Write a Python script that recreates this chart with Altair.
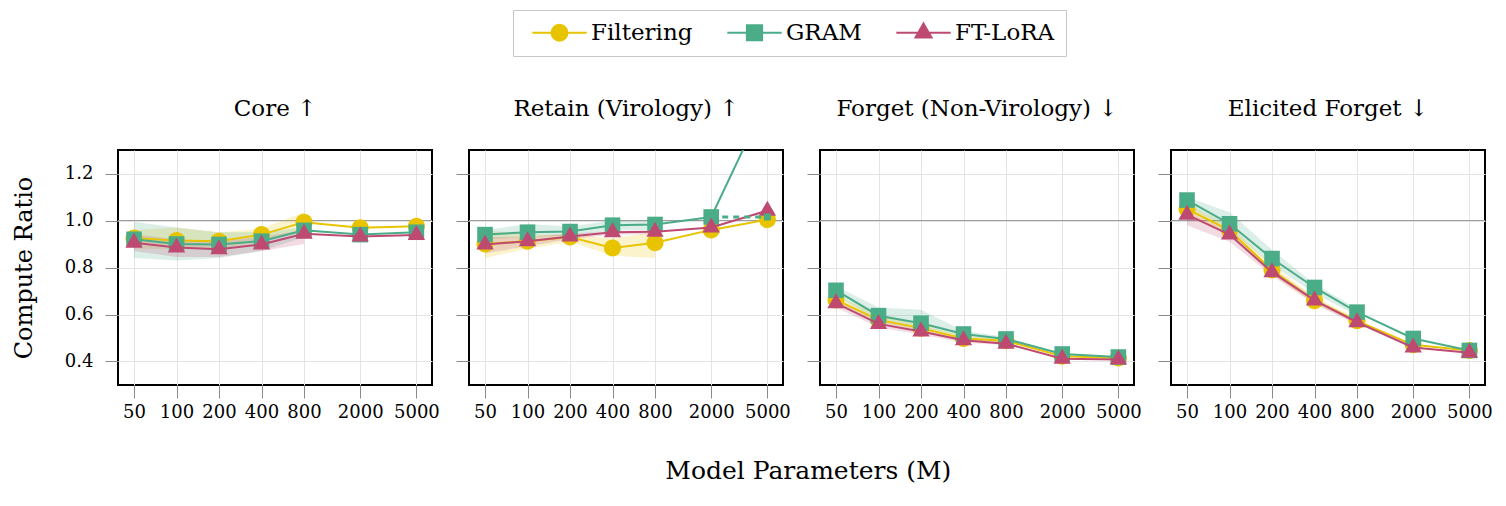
import altair as alt
import pandas as pd

# ---- data -------------------------------------------------------------
SIZES = [50, 100, 200, 400, 800, 2000, 5000]
BAND_SIZES = [50, 100, 200, 400, 800]
METHODS = ["Filtering", "GRAM", "FT-LoRA"]
COLORS = ["#E8C300", "#4BAC88", "#BE4A72"]
PANELS = ["Core ↑", "Retain (Virology) ↑", "Forget (Non-Virology) ↓", "Elicited Forget ↓"]
Y_TICKS = [0.4, 0.6, 0.8, 1.0, 1.2]

# Core
core_filtering = [0.925, 0.915, 0.912, 0.940, 0.993, 0.969, 0.976]
core_gram = [0.920, 0.900, 0.898, 0.912, 0.958, 0.940, 0.950]
core_ftlora = [0.905, 0.885, 0.878, 0.898, 0.944, 0.932, 0.938]
core_filtering_lo = [0.88, 0.88, 0.88, 0.91, 0.96]
core_filtering_hi = [0.96, 0.97, 0.95, 0.965, 1.035]
core_gram_lo = [0.84, 0.83, 0.84, 0.87, 0.93]
core_gram_hi = [0.995, 0.97, 0.95, 0.95, 0.97]
core_ftlora_lo = [0.87, 0.845, 0.845, 0.87, 0.90]
core_ftlora_hi = [0.94, 0.92, 0.91, 0.93, 0.96]

# Retain (Virology)
retain_filtering = [0.900, 0.912, 0.930, 0.883, 0.905, 0.960, 1.004]
retain_gram = [0.940, 0.950, 0.953, 0.980, 0.983, 1.015, 1.520]
retain_ftlora = [0.898, 0.912, 0.932, 0.950, 0.952, 0.970, 1.042]
retain_filtering_lo = [0.84, 0.88, 0.91, 0.85, 0.84]
retain_filtering_hi = [0.96, 0.94, 0.94, 0.925, 0.95]
retain_gram_lo = [0.92, 0.93, 0.935, 0.96, 0.96]
retain_gram_hi = [0.96, 0.985, 0.975, 1.00, 1.00]
retain_ftlora_lo = [0.86, 0.89, 0.92, 0.94, 0.94]
retain_ftlora_hi = [0.93, 0.93, 0.945, 0.955, 0.96]

# Forget (Non-Virology)
forget_filtering = [0.662, 0.577, 0.542, 0.498, 0.488, 0.422, 0.415]
forget_gram = [0.703, 0.595, 0.563, 0.517, 0.496, 0.432, 0.419]
forget_ftlora = [0.648, 0.560, 0.528, 0.490, 0.476, 0.412, 0.408]
forget_filtering_lo = [0.645, 0.565, 0.53, 0.49, 0.48]
forget_filtering_hi = [0.68, 0.60, 0.555, 0.51, 0.495]
forget_gram_lo = [0.68, 0.575, 0.545, 0.505, 0.49]
forget_gram_hi = [0.72, 0.63, 0.62, 0.53, 0.505]
forget_ftlora_lo = [0.63, 0.545, 0.515, 0.48, 0.47]
forget_ftlora_hi = [0.66, 0.575, 0.54, 0.50, 0.485]

# Elicited Forget
elicited_filtering = [1.049, 0.958, 0.789, 0.659, 0.573, 0.471, 0.447]
elicited_gram = [1.087, 0.986, 0.838, 0.715, 0.610, 0.498, 0.447]
elicited_ftlora = [1.025, 0.940, 0.780, 0.660, 0.567, 0.460, 0.437]
elicited_filtering_lo = [1.02, 0.94, 0.77, 0.645, 0.565]
elicited_filtering_hi = [1.07, 0.98, 0.81, 0.675, 0.585]
elicited_gram_lo = [1.06, 0.96, 0.81, 0.69, 0.595]
elicited_gram_hi = [1.10, 1.035, 0.875, 0.73, 0.625]
elicited_ftlora_lo = [0.98, 0.91, 0.765, 0.645, 0.555]
elicited_ftlora_hi = [1.04, 0.955, 0.795, 0.67, 0.575]

# GRAM at 5000 runs off the retain panel: dashed marker at the panel edge
retain_gram_cap_sizes = [2000, 5000]
retain_gram_cap_values = [1.015, 1.015]

SERIES = {
    PANELS[0]: [(core_filtering, core_filtering_lo, core_filtering_hi),
                (core_gram, core_gram_lo, core_gram_hi),
                (core_ftlora, core_ftlora_lo, core_ftlora_hi)],
    PANELS[1]: [(retain_filtering, retain_filtering_lo, retain_filtering_hi),
                (retain_gram, retain_gram_lo, retain_gram_hi),
                (retain_ftlora, retain_ftlora_lo, retain_ftlora_hi)],
    PANELS[2]: [(forget_filtering, forget_filtering_lo, forget_filtering_hi),
                (forget_gram, forget_gram_lo, forget_gram_hi),
                (forget_ftlora, forget_ftlora_lo, forget_ftlora_hi)],
    PANELS[3]: [(elicited_filtering, elicited_filtering_lo, elicited_filtering_hi),
                (elicited_gram, elicited_gram_lo, elicited_gram_hi),
                (elicited_ftlora, elicited_ftlora_lo, elicited_ftlora_hi)],
}

# ---- styling ----------------------------------------------------------
FONT = "DejaVu Serif"
CIRCLE = "M1,0A1,1,0,1,1,-1,0A1,1,0,1,1,1,0Z"
SQUARE = "M-0.9,-0.9H0.9V0.9H-0.9Z"
TRIANGLE = "M0,-1L0.866,0.5L-0.866,0.5Z"
MARKERS = [(CIRCLE, 290), (SQUARE, 300), (TRIANGLE, 400)]
# legend glyphs: marker with a short line through it
LEGEND_PATHS = [
    "M-3.4,0H3.4M1,0A1,1,0,1,1,-1,0A1,1,0,1,1,1,0Z",
    "M-3.4,0H3.4M-0.95,-0.95H0.95V0.95H-0.95Z",
    "M-3.4,0H3.4M0,-1.15L1.0,0.58L-1.0,0.58Z",
]

W, H = 314, 235
xscale = alt.Scale(type="log", domain=[38.5, 6450], nice=False)
yscale = alt.Scale(domain=[0.3, 1.3], nice=False, zero=False)


def xenc(field="size"):
    return alt.X(f"{field}:Q", scale=xscale,
                 axis=alt.Axis(values=SIZES, format="d", title=None,
                               labelOverlap=False, labelFlush=False,
                               labelPadding=5))


def yenc(field, first):
    return alt.Y(f"{field}:Q", scale=yscale,
                 axis=alt.Axis(values=Y_TICKS, format=".1f",
                               labels=first,
                               title="Compute Ratio" if first else None,
                               titlePadding=28, labelPadding=12))


def panel(idx):
    name = PANELS[idx]
    rows = []
    for m, (vals, lo, hi) in zip(METHODS, SERIES[name]):
        for i, s in enumerate(SIZES):
            rows.append({"method": m, "size": s, "value": vals[i],
                         "lo": lo[i] if i < len(lo) else None,
                         "hi": hi[i] if i < len(hi) else None})
    df = pd.DataFrame(rows)
    first = idx == 0

    base = alt.Chart(df)
    layers = []
    ref = alt.Chart(pd.DataFrame({"ref": [1.0]})).mark_rule(
        color="#9a9a9a", strokeWidth=1).encode(y=yenc("ref", first))
    layers.append(ref)
    for m, c in zip(METHODS, COLORS):
        layers.append(
            base.transform_filter(alt.datum.method == m)
            .transform_filter("isValid(datum.lo)")
            .mark_area(color=c, opacity=0.2, clip=True)
            .encode(x=xenc(), y=yenc("lo", first), y2="hi:Q"))
    for m, c, (shape, size) in zip(METHODS, COLORS, MARKERS):
        sub = base.transform_filter(alt.datum.method == m)
        layers.append(sub.mark_line(color=c, strokeWidth=2, clip=True)
                      .encode(x=xenc(), y=yenc("value", first)))
        layers.append(sub.mark_point(shape=shape, size=size, filled=True,
                                     color=c, opacity=1, clip=True)
                      .encode(x=xenc(), y=yenc("value", first)))
    if idx == 1:
        cap = alt.Chart(pd.DataFrame({"size": retain_gram_cap_sizes,
                                      "value": retain_gram_cap_values}))
        layers.append(cap.mark_line(color=COLORS[1], strokeWidth=3,
                                    strokeDash=[6, 5], clip=True)
                      .encode(x=xenc(), y=yenc("value", first)))
        layers.append(cap.transform_filter(alt.datum.size == 5000)
                      .mark_point(shape="square", size=49, filled=True,
                                  color=COLORS[1], opacity=1)
                      .encode(x=xenc(), y=yenc("value", first)))
    if first:
        leg = alt.Chart(pd.DataFrame({"method": METHODS,
                                      "size": [50] * 3,
                                      "value": [0.0] * 3}))
        layers.append(
            leg.mark_point(filled=True, clip=True, opacity=1, strokeWidth=2)
            .encode(
                x=xenc(), y=yenc("value", first),
                color=alt.Color("method:N",
                                scale=alt.Scale(domain=METHODS, range=COLORS),
                                legend=alt.Legend(title=None)),
                stroke=alt.Stroke("method:N",
                                  scale=alt.Scale(domain=METHODS, range=COLORS),
                                  legend=alt.Legend(title=None)),
                shape=alt.Shape("method:N",
                                scale=alt.Scale(domain=METHODS,
                                                range=LEGEND_PATHS),
                                legend=alt.Legend(title=None)),
            ))
    return alt.layer(*layers).properties(
        width=W, height=H,
        title=alt.TitleParams(name, fontSize=23, offset=29, font=FONT,
                              fontWeight="normal"))


chart = alt.hconcat(*[panel(i) for i in range(4)], spacing=37,
                    bounds="flush").properties(
    title=alt.TitleParams("Model Parameters (M)", orient="bottom",
                          anchor="middle", fontSize=25, offset=37, dx=56,
                          font=FONT, fontWeight="normal"),
    padding={"left": 11, "top": 9, "right": 10, "bottom": 10},
).configure(font=FONT).configure_view(
    stroke="black", strokeWidth=2
).configure_axis(
    gridColor="#e4e4e4", gridWidth=1, tickColor="#8a8a8a", tickSize=13,
    domain=False, labelFont=FONT, labelFontSize=18, labelColor="black",
    titleFont=FONT, titleFontSize=24, titleFontWeight="normal",
    titleColor="black",
).configure_legend(
    orient="none", legendX=395, legendY=-140, direction="horizontal",
    symbolSize=256, symbolOffset=24, labelOffset=20, columnPadding=26,
    labelFont=FONT, labelFontSize=23, labelColor="black",
    strokeColor="#c8c8c8", padding=11, symbolStrokeWidth=2,
    fillColor="white",
)

chart.save("out.html", embed_options={"renderer": "svg", "actions": False})
